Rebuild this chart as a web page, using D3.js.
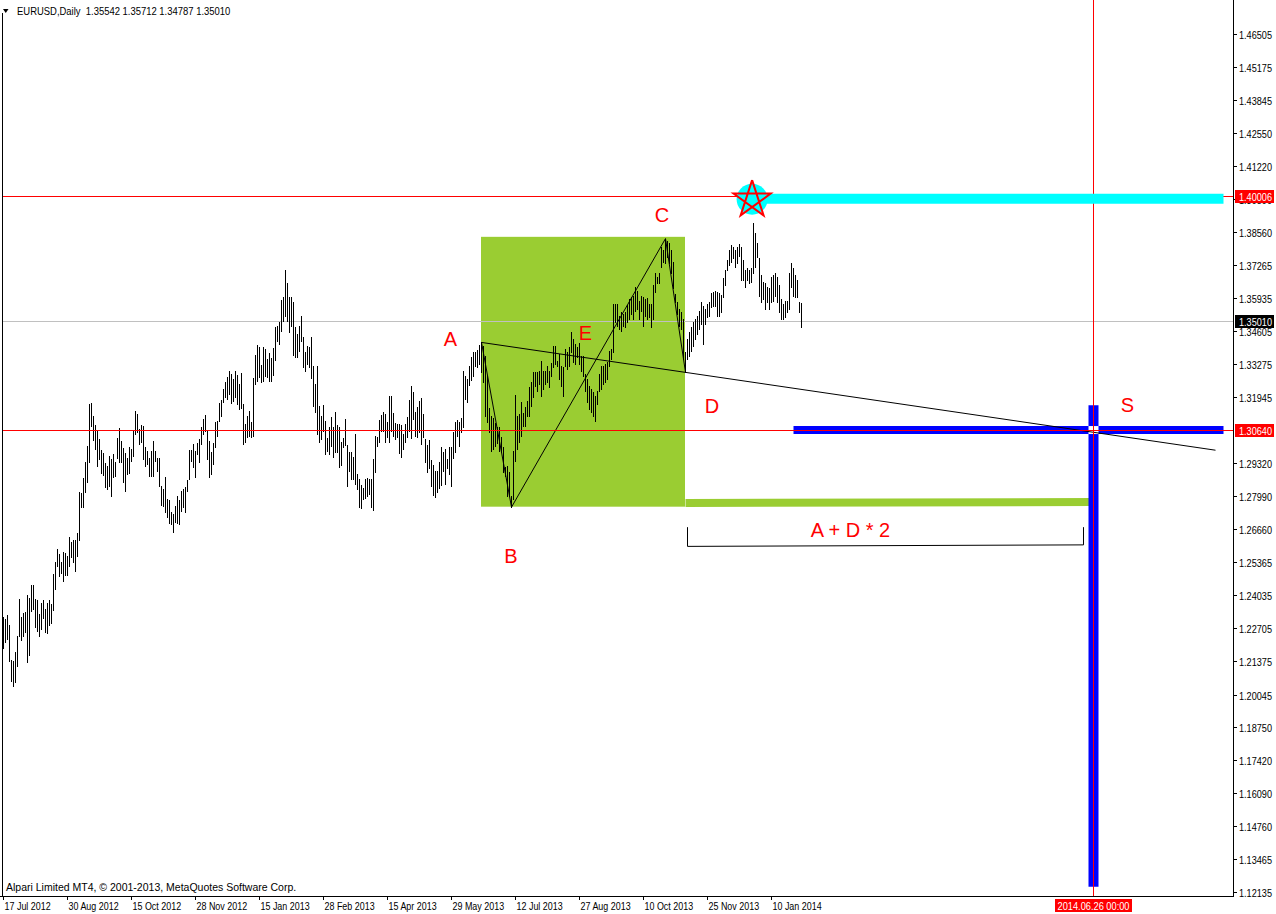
<!DOCTYPE html>
<html>
<head>
<meta charset="utf-8">
<title>EURUSD, Daily</title>
<script src="https://cdn.jsdelivr.net/npm/d3@7"></script>
<style>
  html, body { margin: 0; padding: 0; background: #fff; }
  svg { display: block; }
  text { white-space: pre; }
</style>
</head>
<body>
<svg id="chart" width="1276" height="914"></svg>
<script>
// ---- EURUSD daily bars, 17 Jul 2012 onward (one entry per trading day) ----
const barHighs = [
  1.2315,1.2307,1.2323,1.2283,1.2143,1.2139,1.2175,1.2239,1.2387,1.2315,
  1.2331,1.2335,1.2403,1.2391,1.2443,1.2443,1.2387,1.2383,1.2327,1.2371,
  1.2383,1.2347,1.2371,1.2383,1.2367,1.2487,1.2535,1.2587,1.2567,1.2535,
  1.2575,1.2571,1.2559,1.2635,1.2615,1.2623,1.2623,1.2651,1.2815,1.2811,
  1.2871,1.2935,1.2999,1.3167,1.3171,1.3119,1.3083,1.3063,1.3027,1.2983,
  1.2971,1.2931,1.2919,1.2959,1.2947,1.2967,1.2935,1.3031,1.3071,1.3019,
  1.2991,1.2971,1.2951,1.2995,1.2987,1.3059,1.3139,1.3127,1.3067,1.3083,
  1.3079,1.2995,1.2979,1.2951,1.2979,1.3019,1.2979,1.2951,1.2951,1.2839,
  1.2827,1.2875,1.2787,1.2783,1.2735,1.2727,1.2759,1.2799,1.2783,1.2819,
  1.2827,1.2835,1.2863,1.2983,1.2983,1.3007,1.2979,1.3011,1.3027,1.3075,
  1.3107,1.3123,1.3063,1.3019,1.2975,1.3011,1.3095,1.3099,1.3171,1.3183,
  1.3227,1.3255,1.3275,1.3299,1.3287,1.3267,1.3299,1.3283,1.3247,1.3291,
  1.3167,1.3087,1.3119,1.3139,1.3095,1.3271,1.3363,1.3403,1.3395,1.3323,
  1.3395,1.3387,1.3347,1.3371,1.3351,1.3391,1.3475,1.3479,1.3495,1.3583,
  1.3595,1.3707,1.3655,1.3595,1.3595,1.3575,1.3475,1.3447,1.3479,1.3519,
  1.3435,1.3375,1.3399,1.3395,1.3435,1.3319,1.3247,1.3319,1.3159,1.3119,
  1.3163,1.3099,1.3031,1.3075,1.3115,1.3075,1.3135,1.3083,1.3075,1.3015,
  1.3031,1.3107,1.3003,1.2975,1.2975,1.2955,1.3047,1.2887,1.2867,1.2843,
  1.2831,1.2867,1.2871,1.2867,1.2867,1.2947,1.3039,1.3035,1.3103,1.3123,
  1.3135,1.3127,1.3095,1.3199,1.3199,1.3131,1.3091,1.3087,1.3087,1.3083,
  1.3047,1.3087,1.3115,1.3183,1.3239,1.3215,1.3135,1.3155,1.3179,1.3191,
  1.3127,1.3027,1.3003,1.3023,1.2943,1.2923,1.2899,1.2899,1.2935,1.2995,
  1.2975,1.2987,1.2947,1.2995,1.2995,1.3055,1.3095,1.3103,1.3095,1.3111,
  1.3299,1.3279,1.3267,1.3319,1.3355,1.3375,1.3375,1.3383,1.3405,1.3415,
  1.3399,1.3359,1.3279,1.3151,1.3119,1.3111,1.3091,1.3075,1.3075,1.3035,
  1.2995,1.2915,1.2919,1.2895,1.2799,1.2979,1.3203,1.3119,1.3127,1.3175,
  1.3131,1.3155,1.3179,1.3235,1.3255,1.3295,1.3295,1.3295,1.3299,1.3339,
  1.3299,1.3299,1.3319,1.3299,1.3331,1.3399,1.3399,1.3339,1.3367,1.3319,
  1.3315,1.3387,1.3375,1.3395,1.3455,1.3427,1.3407,1.3395,1.3411,1.3359,
  1.3359,1.3287,1.3267,1.3239,1.3227,1.3215,1.3199,1.3219,1.3287,1.3319,
  1.3319,1.3327,1.3335,1.3379,1.3387,1.3567,1.3567,1.3567,1.3519,1.3535,
  1.3527,1.3535,1.3563,1.3587,1.3595,1.3599,1.3639,1.3619,1.3579,1.3599,
  1.3595,1.3587,1.3591,1.3567,1.3567,1.3647,1.3695,1.3679,1.3695,1.3799,
  1.3787,1.3831,1.3823,1.3815,1.3787,1.3739,1.3607,1.3575,1.3547,1.3535,
  1.3507,1.3375,1.3427,1.3455,1.3475,1.3495,1.3507,1.3519,1.3539,1.3575,
  1.3559,1.3547,1.3567,1.3575,1.3611,1.3615,1.3619,1.3615,1.3611,1.3603,
  1.3675,1.3707,1.3747,1.3787,1.3807,1.3799,1.3787,1.3799,1.3811,1.3799,
  1.3747,1.3707,1.3715,1.3707,1.3715,1.3895,1.3855,1.3815,1.3755,1.3687,
  1.3659,1.3655,1.3639,1.3635,1.3679,1.3687,1.3695,1.3679,1.3647,1.3587,
  1.3567,1.3579,1.3579,1.3695,1.3735,1.3715,1.3687,1.3667,1.3575,1.35712
];
const barLows = [
  1.2191,1.2215,1.2227,1.2139,1.2059,1.2039,1.2055,1.2119,1.2239,1.2223,
  1.2239,1.2255,1.2135,1.2163,1.2339,1.2347,1.2275,1.2259,1.2239,1.2267,
  1.2311,1.2255,1.2251,1.2283,1.2291,1.2343,1.2427,1.2519,1.2479,1.2491,
  1.2459,1.2483,1.2483,1.2519,1.2555,1.2535,1.2499,1.2559,1.2623,1.2755,
  1.2755,1.2815,1.2855,1.2935,1.3079,1.3023,1.2987,1.2919,1.2947,1.2891,
  1.2883,1.2835,1.2827,1.2839,1.2799,1.2875,1.2879,1.2951,1.2935,1.2935,
  1.2855,1.2819,1.2887,1.2891,1.2939,1.2959,1.3047,1.3055,1.3007,1.3015,
  1.2947,1.2919,1.2927,1.2879,1.2879,1.2879,1.2939,1.2899,1.2839,1.2763,
  1.2759,1.2735,1.2715,1.2691,1.2687,1.2655,1.2695,1.2691,1.2687,1.2739,
  1.2755,1.2735,1.2819,1.2867,1.2939,1.2915,1.2875,1.2967,1.2935,1.3007,
  1.3047,1.3059,1.2947,1.2875,1.2887,1.2927,1.2995,1.3039,1.3099,1.3119,
  1.3175,1.3195,1.3187,1.3207,1.3171,1.3179,1.3195,1.3167,1.3147,1.3151,
  1.3007,1.3015,1.3035,1.3039,1.3035,1.3039,1.3247,1.3259,1.3275,1.3255,
  1.3259,1.3279,1.3275,1.3259,1.3259,1.3283,1.3343,1.3419,1.3407,1.3459,
  1.3499,1.3519,1.3499,1.3455,1.3479,1.3363,1.3355,1.3355,1.3379,1.3419,
  1.3315,1.3299,1.3327,1.3315,1.3271,1.3159,1.3135,1.3047,1.3015,1.3027,
  1.3059,1.2967,1.2979,1.2967,1.2999,1.2955,1.2975,1.2975,1.2915,1.2923,
  1.2995,1.3003,1.2839,1.2899,1.2867,1.2867,1.2847,1.2827,1.2755,1.2751,
  1.2787,1.2791,1.2799,1.2807,1.2755,1.2743,1.2895,1.2999,1.3015,1.3059,
  1.3059,1.3015,1.3035,1.3015,1.3059,1.3039,1.3027,1.3035,1.2971,1.2955,
  1.2987,1.3015,1.3035,1.3059,1.3031,1.3107,1.3039,1.3035,1.3055,1.3007,
  1.3035,1.2935,1.2895,1.2911,1.2839,1.2803,1.2795,1.2815,1.2831,1.2843,
  1.2899,1.2847,1.2911,1.2887,1.2839,1.2951,1.2975,1.3039,1.2999,1.3055,
  1.3075,1.3187,1.3175,1.3243,1.3263,1.3279,1.3319,1.3315,1.3327,1.3295,
  1.3255,1.3119,1.3095,1.3055,1.2979,1.2987,1.2999,1.3011,1.2979,1.2975,
  1.2895,1.2879,1.2799,1.2799,1.2755,1.2787,1.2939,1.2987,1.3015,1.3039,
  1.3079,1.3079,1.3119,1.3119,1.3159,1.3195,1.3239,1.3219,1.3247,1.3199,
  1.3227,1.3247,1.3255,1.3235,1.3279,1.3315,1.3327,1.3319,1.3267,1.3239,
  1.3199,1.3319,1.3307,1.3319,1.3375,1.3335,1.3327,1.3355,1.3327,1.3299,
  1.3279,1.3219,1.3175,1.3147,1.3135,1.3119,1.3099,1.3167,1.3219,1.3227,
  1.3247,1.3255,1.3267,1.3319,1.3347,1.3375,1.3495,1.3479,1.3467,1.3459,
  1.3479,1.3475,1.3495,1.3507,1.3527,1.3507,1.3539,1.3547,1.3507,1.3539,
  1.3479,1.3519,1.3507,1.3515,1.3475,1.3507,1.3615,1.3655,1.3655,1.3719,
  1.3739,1.3735,1.3759,1.3735,1.3695,1.3635,1.3575,1.3527,1.3479,1.3467,
  1.3347,1.3295,1.3347,1.3359,1.3379,1.3399,1.3427,1.3447,1.3467,1.3487,
  1.3407,1.3487,1.3515,1.3519,1.3555,1.3559,1.3559,1.3519,1.3519,1.3535,
  1.3595,1.3647,1.3707,1.3727,1.3739,1.3755,1.3719,1.3735,1.3763,1.3667,
  1.3667,1.3639,1.3667,1.3655,1.3659,1.3695,1.3719,1.3759,1.3599,1.3575,
  1.3587,1.3547,1.3575,1.3547,1.3575,1.3579,1.3599,1.3575,1.3535,1.3507,
  1.3507,1.3515,1.3535,1.3547,1.3639,1.3599,1.3595,1.3595,1.3535,1.34787
];

// ---- last bar quote (open, high, low, close) ----
const symbolName = "EURUSD,Daily";
const lastQuote = [1.35542, 1.35712, 1.34787, 1.35010];

// ---- axis labels ----
const priceTicks = [
  1.46505, 1.45175, 1.43845, 1.42550, 1.41220, 1.39890, 1.38560, 1.37265,
  1.35935, 1.34605, 1.33275, 1.31945, 1.29320, 1.27990, 1.26660, 1.25365,
  1.24035, 1.22705, 1.21375, 1.20045, 1.18750, 1.17420, 1.16090, 1.14760,
  1.13465, 1.12135
];
const dateTickLabels = [
  "17 Jul 2012", "30 Aug 2012", "15 Oct 2012", "28 Nov 2012", "15 Jan 2013",
  "28 Feb 2013", "15 Apr 2013", "29 May 2013", "12 Jul 2013", "27 Aug 2013",
  "10 Oct 2013", "25 Nov 2013", "10 Jan 2014"
];
const barsPerDateTick = 32;
const copyrightText = "Alpari Limited MT4, \u00A9 2001-2013, MetaQuotes Software Corp.";

// ---- wave pivots (bar index, price) ----
const pivotA = [239, 1.3415];
const pivotB = [254, 1.2755];
const pivotC = [331, 1.3831];
const pivotD = [341, 1.3295];
const rayEndBar = 606;

// ---- analysis objects ----
const zoneBars = [239, 341];            // shaded A..D zone
const zonePrices = [1.2757, 1.3838];
const targetLevel = 1.30640;            // horizontal level
const resistanceLevel = 1.40006;        // horizontal level
const targetBar = 545;                  // 2014.06.26
const targetDateLabel = "2014.06.26 00:00";
const levelBandBars = [395, 610];
const timeBandPrices = [1.3163, 1.1235];
const projectionBars = [341, 545];
const projectionPrices = [1.2772, 1.2776];
const bracketBars = [342, 540];
const bracketPrices = [1.2675, 1.2598, 1.2604];
const resistanceBandBars = [374, 610];
const resistanceBandPrice = 1.3991;
const starAnchor = [374.3, 1.3987];

const waveLabels = [
  { text: "A", bar: 223.5, price: 1.3401 },
  { text: "B", bar: 253.75, price: 1.2531 },
  { text: "C", bar: 329.25, price: 1.3897 },
  { text: "D", bar: 354.25, price: 1.3132 },
  { text: "E", bar: 291, price: 1.3425 },
  { text: "S", bar: 562, price: 1.3136 },
  { text: "A + D * 2", bar: 423.5, price: 1.2636 }
];

// ---- layout ----
const plotRight = 1233, plotBottom = 896, plotLeft = 2;
const x = d3.scaleLinear().domain([0, 615]).range([3.5, 1233.5]);
const y = d3.scaleLinear().domain([1.12135, 1.46505]).range([892, 34]);

const uiFont = "'Liberation Sans',Arial,sans-serif";
const labelFont = "'Liberation Sans',Arial,sans-serif";
const fmt5 = d3.format(".5f");

// squeeze a text node horizontally so it reads like the terminal's compact UI font
function squeeze(sel, factor) {
  sel.each(function () {
    const w = this.getComputedTextLength();
    d3.select(this)
      .attr("textLength", (w * factor).toFixed(1))
      .attr("lengthAdjust", "spacingAndGlyphs");
  });
  return sel;
}

const svg = d3.select("#chart");
svg.append("rect").attr("width", 1276).attr("height", 914).attr("fill", "#fff");

const plot = svg.append("g");

// shaded zone between A and D
plot.append("rect")
  .attr("x", x(zoneBars[0]) - 0.5)
  .attr("y", y(zonePrices[1]))
  .attr("width", x(zoneBars[1]) - x(zoneBars[0]))
  .attr("height", y(zonePrices[0]) - y(zonePrices[1]))
  .attr("fill", "#9acd32");

// bid line
plot.append("line")
  .attr("x1", plotLeft).attr("x2", plotRight)
  .attr("y1", Math.round(y(lastQuote[3])) + 0.5).attr("y2", Math.round(y(lastQuote[3])) + 0.5)
  .attr("stroke", "#c0c0c0").attr("stroke-width", 1);

// price bars (high-low)
plot.append("g")
  .attr("shape-rendering", "crispEdges")
  .selectAll("line")
  .data(barHighs)
  .join("line")
  .attr("x1", (d, i) => x(i)).attr("x2", (d, i) => x(i))
  .attr("y1", d => y(d))
  .attr("y2", (d, i) => y(barLows[i]) + 1)
  .attr("stroke", "#000").attr("stroke-width", 1);

// thick projection line from D towards the target date
plot.append("line")
  .attr("x1", x(projectionBars[0])).attr("x2", x(projectionBars[1]))
  .attr("y1", y(projectionPrices[0])).attr("y2", y(projectionPrices[1]))
  .attr("stroke", "#9acd32").attr("stroke-width", 8);

// blue target level band and time band
plot.append("line")
  .attr("x1", x(levelBandBars[0])).attr("x2", x(levelBandBars[1]))
  .attr("y1", y(targetLevel)).attr("y2", y(targetLevel))
  .attr("stroke", "#0000ff").attr("stroke-width", 8);
plot.append("line")
  .attr("x1", x(targetBar)).attr("x2", x(targetBar))
  .attr("y1", y(timeBandPrices[0])).attr("y2", y(timeBandPrices[1]))
  .attr("stroke", "#0000ff").attr("stroke-width", 10);
plot.append("rect")
  .attr("x", x(targetBar) - 5).attr("y", y(targetLevel) - 4)
  .attr("width", 10).attr("height", 8)
  .attr("fill", "#fff");

// wave trendlines
const line = d3.line().x(d => x(d[0])).y(d => y(d[1]));
const slopeAD = (pivotD[1] - pivotA[1]) / (pivotD[0] - pivotA[0]);
const rayEnd = [rayEndBar, pivotA[1] + slopeAD * (rayEndBar - pivotA[0])];
[[pivotA, pivotB], [pivotB, pivotC], [pivotC, pivotD], [pivotA, rayEnd]].forEach(seg => {
  plot.append("path")
    .attr("d", line(seg))
    .attr("fill", "none").attr("stroke", "#000").attr("stroke-width", 1);
});

// "A + D * 2" bracket
plot.append("path")
  .attr("d", line([
    [bracketBars[0], bracketPrices[0]],
    [bracketBars[0], bracketPrices[1]],
    [bracketBars[1], bracketPrices[2]],
    [bracketBars[1], bracketPrices[0]]
  ]))
  .attr("fill", "none").attr("stroke", "#000").attr("stroke-width", 1);

// red horizontal levels and vertical time line
[resistanceLevel, targetLevel].forEach(p => {
  const yy = Math.round(y(p)) + 0.5;
  plot.append("line")
    .attr("x1", plotLeft).attr("x2", plotRight)
    .attr("y1", yy).attr("y2", yy)
    .attr("stroke", "#ff0000").attr("stroke-width", 1);
});
plot.append("line")
  .attr("x1", Math.floor(x(targetBar)) + 0.5).attr("x2", Math.floor(x(targetBar)) + 0.5)
  .attr("y1", 0).attr("y2", plotBottom)
  .attr("stroke", "#ff0000").attr("stroke-width", 1);

// resistance band with marker
plot.append("line")
  .attr("x1", x(resistanceBandBars[0])).attr("x2", x(resistanceBandBars[1]))
  .attr("y1", y(resistanceBandPrice)).attr("y2", y(resistanceBandPrice))
  .attr("stroke", "#00ffff").attr("stroke-width", 10);

const sx = x(starAnchor[0]), sy = y(starAnchor[1]);
plot.append("circle")
  .attr("cx", sx).attr("cy", sy - 0.5).attr("r", 15.5)
  .attr("fill", "#00ffff");
const R = 19.5;
const starPts = [0, 2, 4, 1, 3, 0].map(k => {
  const a = (-90 + 72 * k) * Math.PI / 180;
  return [sx + R * Math.cos(a), sy + R * Math.sin(a)];
});
plot.append("path")
  .attr("d", d3.line()(starPts))
  .attr("fill", "none").attr("stroke", "#ff0000").attr("stroke-width", 2)
  .attr("stroke-linejoin", "miter");

// wave labels
plot.append("g")
  .selectAll("text")
  .data(waveLabels)
  .join("text")
  .attr("x", d => x(d.bar))
  .attr("y", d => y(d.price))
  .attr("text-anchor", "middle")
  .attr("font-family", labelFont)
  .attr("font-size", 20)
  .attr("fill", "#ff0000")
  .text(d => d.text);

// ---- frame and axes ----
const axes = svg.append("g").attr("shape-rendering", "crispEdges");
axes.append("line").attr("x1", plotLeft + 0.5).attr("x2", plotLeft + 0.5)
  .attr("y1", 13).attr("y2", plotBottom).attr("stroke", "#000");
axes.append("line").attr("x1", plotRight + 0.5).attr("x2", plotRight + 0.5)
  .attr("y1", 0).attr("y2", plotBottom + 1).attr("stroke", "#000");
axes.append("line").attr("x1", 0).attr("x2", plotRight + 1)
  .attr("y1", plotBottom + 0.5).attr("y2", plotBottom + 0.5).attr("stroke", "#000");

// price scale
const yAxis = axes.append("g");
priceTicks.forEach(p => {
  const yy = Math.round(y(p)) + 0.5;
  yAxis.append("line").attr("x1", plotRight).attr("x2", plotRight + 4)
    .attr("y1", yy).attr("y2", yy).attr("stroke", "#000");
  yAxis.append("text")
    .attr("x", plotRight + 6).attr("y", yy + 4)
    .attr("font-family", uiFont).attr("font-size", 10.5)
    .attr("fill", "#000")
    .attr("textLength", 33).attr("lengthAdjust", "spacingAndGlyphs")
    .text(fmt5(p));
});

// time scale
const xAxis = axes.append("g");
dateTickLabels.forEach((lbl, k) => {
  const xx = Math.floor(x(k * barsPerDateTick)) + 0.5;
  xAxis.append("line").attr("x1", xx).attr("x2", xx)
    .attr("y1", plotBottom).attr("y2", plotBottom + 4).attr("stroke", "#000");
  squeeze(xAxis.append("text")
    .attr("x", xx + 1).attr("y", 910)
    .attr("font-family", uiFont).attr("font-size", 10.5)
    .attr("fill", "#000")
    .text(lbl), 0.85);
});

// highlighted price boxes on the price scale
[[resistanceLevel, "#ff0000"], [lastQuote[3], "#000000"], [targetLevel, "#ff0000"]].forEach(([p, c]) => {
  const yy = Math.round(y(p));
  axes.append("rect")
    .attr("x", plotRight + 2).attr("y", yy - 6)
    .attr("width", 39).attr("height", 13)
    .attr("fill", c);
  axes.append("text")
    .attr("x", plotRight + 6).attr("y", yy + 4.5)
    .attr("font-family", uiFont).attr("font-size", 10.5)
    .attr("fill", "#fff")
    .attr("textLength", 33).attr("lengthAdjust", "spacingAndGlyphs")
    .text(fmt5(p));
});

// highlighted date box on the time scale
const tx = Math.floor(x(targetBar));
axes.append("rect")
  .attr("x", tx - 38).attr("y", plotBottom + 3)
  .attr("width", 77).attr("height", 13)
  .attr("fill", "#ff0000");
axes.append("text")
  .attr("x", tx + 0.5).attr("y", 910)
  .attr("text-anchor", "middle")
  .attr("font-family", uiFont).attr("font-size", 10.5)
  .attr("fill", "#fff")
  .attr("textLength", 72).attr("lengthAdjust", "spacingAndGlyphs")
  .text(targetDateLabel);

// header and footer text
svg.append("path").attr("d", "M3,9 L8.5,9 L5.75,13 Z").attr("fill", "#000");
squeeze(svg.append("text")
  .attr("x", 17).attr("y", 15)
  .attr("font-family", uiFont).attr("font-size", 10.5)
  .attr("fill", "#000")
  .text(symbolName + "  " + lastQuote.map(fmt5).join(" ")), 0.9);
squeeze(svg.append("text")
  .attr("x", 6).attr("y", 891)
  .attr("font-family", uiFont).attr("font-size", 10.5)
  .attr("fill", "#000")
  .text(copyrightText), 1.0);
</script>
</body>
</html>
